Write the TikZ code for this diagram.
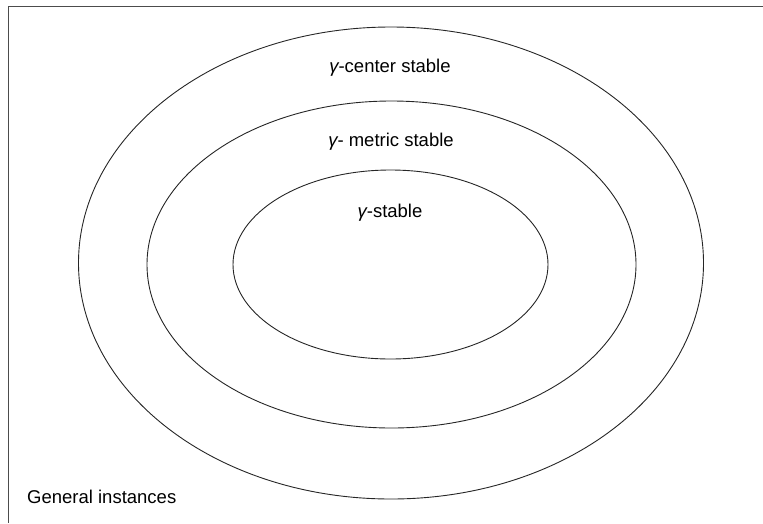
\documentclass[tikz,border=0pt]{standalone}
\usepackage{fontspec}
\setmainfont{Liberation Sans}
\usetikzlibrary{shapes.geometric, positioning}

\begin{document}
\begin{tikzpicture}[
        x=1pt, y=-1pt,
        ring/.style={ellipse, draw=black!85, line width=0.9pt, inner sep=0pt, outer sep=0pt},
        label/.style={font=\fontsize{18.5}{20}\selectfont, inner sep=0pt}
    ]
        \useasboundingbox (0,0) rectangle (763,523);
        \draw[black!70, line width=1pt] (763,6) -- (8,6) -- (8,523);

        \node[ring, minimum width=625pt, minimum height=472pt] (center) at (391,263) {};
        \node[ring, minimum width=489pt, minimum height=327pt] (metric) at (391.5,264.5) {};
        \node[ring, minimum width=315pt, minimum height=189pt] (stable) at (390.5,264.5) {};

        \node[label] (centerlabel) at (390,68) {{\itshape γ}-center stable};
        \node[label] (metriclabel) at (391,142) {{\itshape γ}- metric stable};
        \node[label] (stablelabel) at (390,213) {{\itshape γ}-stable};
        \node[label, anchor=west] (general) at (27,497) {General instances};
    \end{tikzpicture}
\end{document}
